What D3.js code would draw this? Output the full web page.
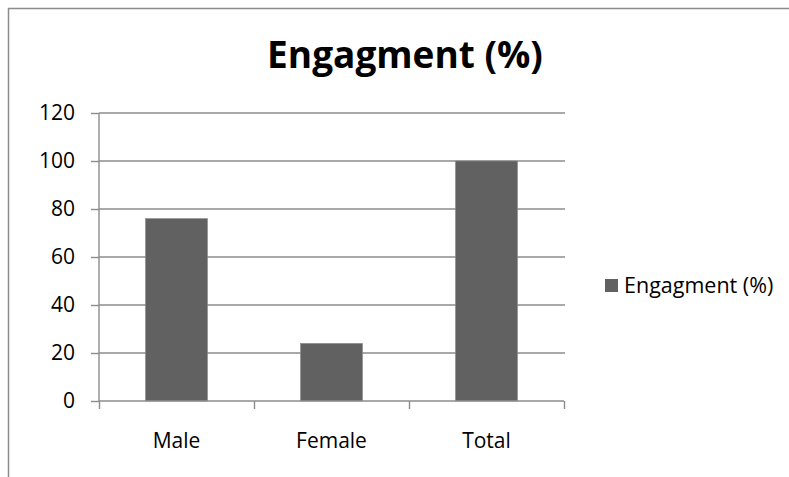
<!DOCTYPE html>
<html>
<head>
<meta charset="utf-8">
<script src="https://cdn.jsdelivr.net/npm/d3@7"></script>
<style>
  html, body { margin: 0; padding: 0; background: #fff; }
  svg { display: block; }
  text { font-family: "Open Sans", "Noto Sans", sans-serif; fill: #000; }
</style>
</head>
<body>
<svg id="chart" width="789" height="477"></svg>
<script>
// Engagement by group
const categories = ["Male", "Female", "Total"];
const engagement = [76, 24, 100];
const yTicks = [0, 20, 40, 60, 80, 100, 120];
const seriesName = "Engagment (%)";
const chartTitle = "Engagment (%)";

const svg = d3.select("#chart");
const W = 789, H = 477;
const plot = { left: 99, right: 564, top: 113, bottom: 401 };
const gridColor = "#8c8c8c";
const barColor = "#616161";
const labelSize = 21;
const fontFamily = "'Open Sans', 'Noto Sans', sans-serif";

// chart frame
svg.append("path")
  .attr("d", `M8.5,${H} V8.5 H${W}`)
  .attr("fill", "none")
  .attr("stroke", gridColor)
  .attr("stroke-width", 1.5);

const x = d3.scaleBand().domain(categories)
  .range([plot.left, plot.right]).paddingInner(0.6).paddingOuter(0.3);
const y = d3.scaleLinear().domain([0, 120]).range([plot.bottom, plot.top]);

// horizontal gridlines
svg.append("g").selectAll("line").data(yTicks.filter(d => d > 0)).join("line")
  .attr("x1", plot.left).attr("x2", plot.right + 1)
  .attr("y1", d => y(d)).attr("y2", d => y(d))
  .attr("stroke", gridColor).attr("stroke-width", 1.4);

// y axis
const yAxis = svg.append("g").attr("transform", `translate(${plot.left},0)`)
  .call(d3.axisLeft(y).tickValues(yTicks).tickSize(8).tickPadding(16));
yAxis.select(".domain").attr("stroke", gridColor).attr("stroke-width", 1.4)
  .attr("d", `M0,${plot.top}V${plot.bottom}`);
yAxis.selectAll(".tick line").attr("stroke", gridColor).attr("stroke-width", 1.4);
yAxis.selectAll(".tick text")
  .attr("font-size", labelSize)
  .attr("font-family", fontFamily)
  .attr("fill", "#000");

// bars
svg.append("g").selectAll("rect").data(engagement).join("rect")
  .attr("x", (d, i) => x(categories[i]))
  .attr("width", x.bandwidth())
  .attr("y", d => y(d))
  .attr("height", d => y(0) - y(d))
  .attr("fill", barColor)
  .attr("stroke", "#8a8a8a")
  .attr("stroke-width", 0.6);

// x axis with band-edge ticks
const xEdges = d3.scaleLinear().domain([0, categories.length]).range([plot.left, plot.right]);
const xAxis = svg.append("g").attr("transform", `translate(0,${plot.bottom})`)
  .call(d3.axisBottom(xEdges).tickValues(d3.range(0, categories.length + 1)).tickSize(8).tickFormat(""));
xAxis.select(".domain").attr("stroke", gridColor).attr("stroke-width", 1.4)
  .attr("d", `M${plot.left},0H${plot.right}`);
xAxis.selectAll(".tick line").attr("stroke", gridColor).attr("stroke-width", 1.4);

// category labels
svg.append("g").selectAll("text").data(categories).join("text")
  .attr("x", d => x(d) + x.bandwidth() / 2)
  .attr("y", 448)
  .attr("text-anchor", "middle")
  .attr("font-size", labelSize)
  .text(d => d);

// title
svg.append("text")
  .attr("x", 405).attr("y", 68)
  .attr("text-anchor", "middle")
  .attr("font-size", 37)
  .attr("font-weight", "bold")
  .text(chartTitle);

// legend
const lg = svg.append("g").attr("transform", "translate(605,279)");
lg.append("rect").attr("width", 13).attr("height", 13).attr("fill", barColor);
lg.append("text").attr("x", 19).attr("y", 13.5).attr("font-size", 21.5).text(seriesName);
</script>
</body>
</html>
